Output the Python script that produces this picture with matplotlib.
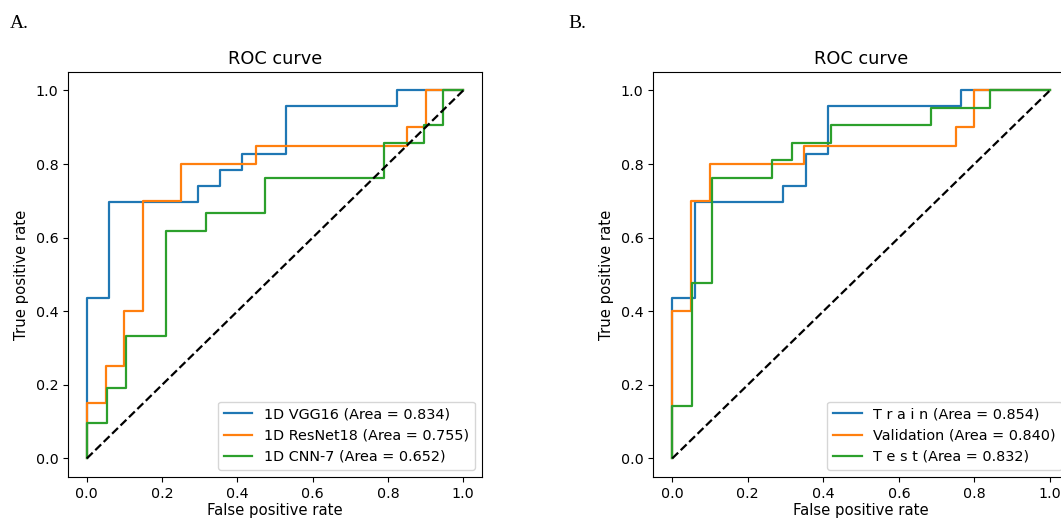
import matplotlib
matplotlib.use('Agg')
import matplotlib.pyplot as plt

# Panel A: model comparison (ROC step points)
vgg_fpr = [0.0, 0.0, 0.059, 0.059, 0.294, 0.294, 0.353, 0.353, 0.412, 0.412, 0.529, 0.529, 0.824, 0.824, 1.0]
vgg_tpr = [0.0, 0.435, 0.435, 0.696, 0.696, 0.739, 0.739, 0.783, 0.783, 0.826, 0.826, 0.957, 0.957, 1.0, 1.0]

resnet_fpr = [0.0, 0.0, 0.05, 0.05, 0.10, 0.10, 0.15, 0.15, 0.25, 0.25, 0.45, 0.45, 0.85, 0.85, 0.90, 0.90, 1.0]
resnet_tpr = [0.0, 0.15, 0.15, 0.25, 0.25, 0.40, 0.40, 0.70, 0.70, 0.80, 0.80, 0.85, 0.85, 0.90, 0.90, 1.0, 1.0]

cnn_fpr = [0.0, 0.0, 0.053, 0.053, 0.105, 0.105, 0.211, 0.211, 0.316, 0.316, 0.474, 0.474, 0.789, 0.789, 0.895, 0.895, 0.947, 0.947, 1.0]
cnn_tpr = [0.0, 0.095, 0.095, 0.190, 0.190, 0.333, 0.333, 0.619, 0.619, 0.667, 0.667, 0.762, 0.762, 0.857, 0.857, 0.905, 0.905, 1.0, 1.0]

# Panel B: train / validation / test
train_fpr = [0.0, 0.0, 0.059, 0.059, 0.294, 0.294, 0.353, 0.353, 0.412, 0.412, 0.765, 0.765, 1.0]
train_tpr = [0.0, 0.435, 0.435, 0.696, 0.696, 0.739, 0.739, 0.826, 0.826, 0.957, 0.957, 1.0, 1.0]

val_fpr = [0.0, 0.0, 0.05, 0.05, 0.10, 0.10, 0.35, 0.35, 0.75, 0.75, 0.80, 0.80, 1.0]
val_tpr = [0.0, 0.40, 0.40, 0.70, 0.70, 0.80, 0.80, 0.85, 0.85, 0.90, 0.90, 1.0, 1.0]

test_fpr = [0.0, 0.0, 0.053, 0.053, 0.105, 0.105, 0.263, 0.263, 0.316, 0.316, 0.421, 0.421, 0.684, 0.684, 0.842, 0.842, 1.0]
test_tpr = [0.0, 0.143, 0.143, 0.476, 0.476, 0.762, 0.762, 0.810, 0.810, 0.857, 0.857, 0.905, 0.905, 0.952, 0.952, 1.0, 1.0]

labels_a = ['1D VGG16 (Area = 0.834)', '1D ResNet18 (Area = 0.755)', '1D CNN-7 (Area = 0.652)']
labels_b = ['T r a i n (Area = 0.854)', 'Validation (Area = 0.840)', 'T e s t (Area = 0.832)']

fig = plt.figure(figsize=(10.61, 5.21), dpi=100)
ax_a = fig.add_axes([0.0641, 0.0848, 0.3903, 0.7770])
ax_b = fig.add_axes([0.6158, 0.0848, 0.3916, 0.7770])

panels = [
    (ax_a, [(vgg_fpr, vgg_tpr), (resnet_fpr, resnet_tpr), (cnn_fpr, cnn_tpr)], labels_a),
    (ax_b, [(train_fpr, train_tpr), (val_fpr, val_tpr), (test_fpr, test_tpr)], labels_b),
]

for ax, curves, labels in panels:
    for (fpr, tpr), lab in zip(curves, labels):
        ax.plot(fpr, tpr, linewidth=1.6, label=lab)
    ax.plot([0, 1], [0, 1], 'k--', linewidth=1.6)
    ax.set_xlabel('False positive rate', fontsize=10.7, labelpad=2)
    ax.set_ylabel('True positive rate', fontsize=10.7, labelpad=5)
    ax.set_title('ROC curve', fontsize=12.8, pad=6)
    ax.tick_params(labelsize=10.3)
    ax.legend(loc='lower right', fontsize=10.4)

fig.text(0.009, 0.955, 'A.', fontsize=14, family='Liberation Serif', va='center')
fig.text(0.536, 0.955, 'B.', fontsize=14, family='Liberation Serif', va='center')

fig.savefig('out.png', dpi=100)
